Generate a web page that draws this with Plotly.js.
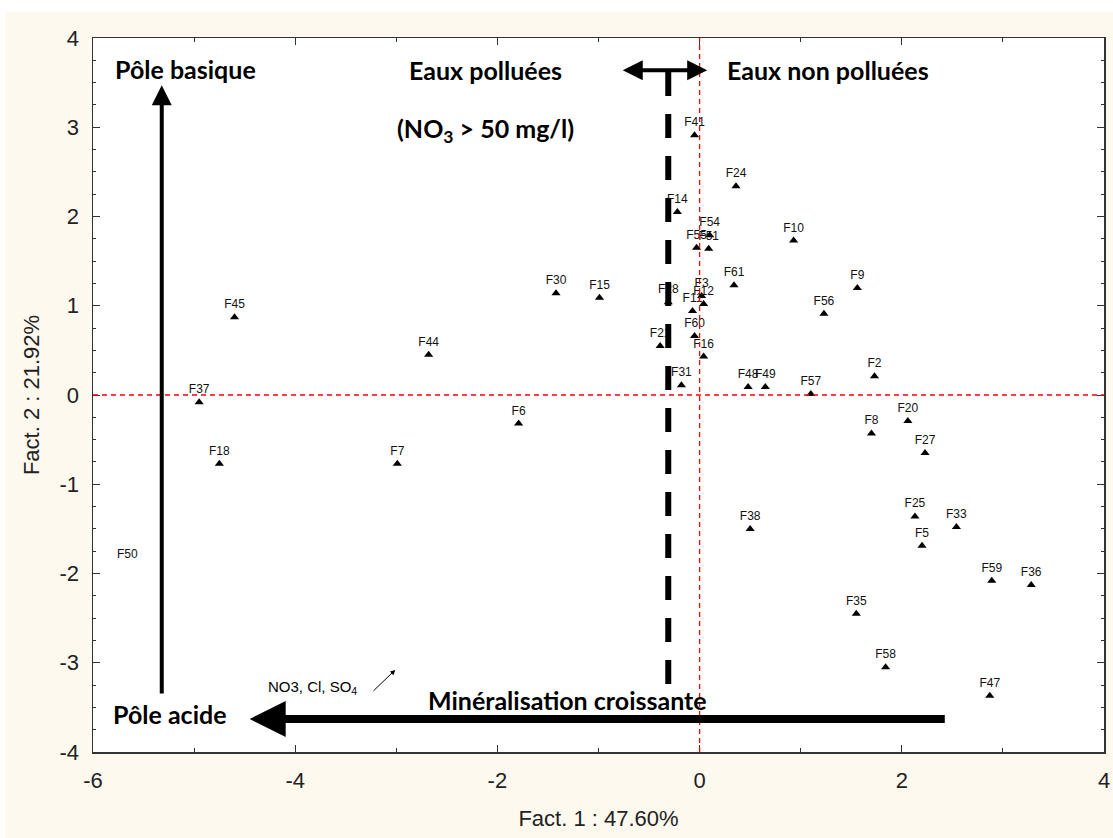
<!DOCTYPE html>
<html>
<head>
<meta charset="utf-8">
<script src="https://cdn.plot.ly/plotly-3.0.1.min.js"></script>
<style>
  html, body { margin: 0; padding: 0; background: #ffffff; }
  #chart { position: absolute; left: 5px; top: 12px; width: 1108px; height: 826px; }
</style>
</head>
<body>
<div id="chart"></div>
<script>
// Well labels and their factor scores (Fact. 1, Fact. 2)
const wells = ["F41","F24","F14","F54","F55","F51","F10","F61","F9","F56","F30","F15",
               "F45","F44","F37","F18","F7","F6","F3","F12","F11","F28","F60","F21",
               "F16","F31","F48","F49","F57","F2","F8","F20","F27","F38","F25","F33",
               "F5","F59","F36","F35","F58","F47"];
const fact1 = [-0.05, 0.36, -0.22, 0.10, -0.03, 0.09, 0.93, 0.34, 1.56, 1.23, -1.42, -0.99,
               -4.60, -2.68, -4.95, -4.75, -2.99, -1.79, 0.02, 0.04, -0.07, -0.31, -0.05, -0.39,
               0.04, -0.18, 0.48, 0.65, 1.10, 1.73, 1.70, 2.06, 2.23, 0.50, 2.13, 2.54,
               2.20, 2.89, 3.28, 1.55, 1.84, 2.87];
const fact2 = [2.91, 2.34, 2.05, 1.79, 1.65, 1.64, 1.73, 1.23, 1.20, 0.91, 1.14, 1.09,
               0.87, 0.45, -0.08, -0.77, -0.77, -0.32, 1.11, 1.02, 0.94, 1.04, 0.66, 0.55,
               0.43, 0.11, 0.09, 0.09, 0.01, 0.21, -0.43, -0.29, -0.65, -1.50, -1.36, -1.48,
               -1.69, -2.08, -2.13, -2.45, -3.05, -3.37];
// Label drawn without a visible marker
const labelOnly = ["F50"];
const labelOnlyF1 = [-5.66];
const labelOnlyF2 = [-1.86];

const xTicks = [-6, -4, -2, 0, 2, 4];
const yTicks = [-4, -3, -2, -1, 0, 1, 2, 3, 4];

const lblFont = { family: "Liberation Sans, Arial, sans-serif", size: 12, color: "#111" };

const traces = [
  {
    type: "scatter", mode: "markers+text",
    x: fact1, y: fact2, text: wells,
    textposition: "top center",
    textfont: lblFont,
    marker: { symbol: "triangle-up", size: 8, color: "#000" },
    hoverinfo: "text", showlegend: false, cliponaxis: false
  },
  {
    type: "scatter", mode: "text",
    x: labelOnlyF1, y: labelOnlyF2, text: labelOnly,
    textposition: "top center",
    textfont: lblFont,
    showlegend: false, cliponaxis: false
  }
];

const boldFont = { family: "Lato, 'Open Sans', sans-serif", size: 25, color: "#000", weight: 700 };

const layout = {
  width: 1108, height: 826,
  paper_bgcolor: "#fef9ef",
  plot_bgcolor: "#ffffff",
  margin: { l: 88, r: 9, t: 26, b: 86 },
  showlegend: false,
  xaxis: {
    range: [-6, 4], tickvals: xTicks, ticktext: xTicks.map(String),
    ticks: "inside", ticklen: 7, tickcolor: "#333", tickwidth: 1,
    minor: { dtick: 1, ticks: "inside", ticklen: 4, tickcolor: "#333" },
    showline: true, linecolor: "#333", linewidth: 1.5, mirror: "ticks",
    showgrid: false, zeroline: false,
    tickfont: { family: "Liberation Sans Narrow, Arial Narrow, sans-serif", size: 22, color: "#222" },
    ticklabelstandoff: 8,
    title: { text: "Fact. 1 : 47.60%", standoff: 18,
             font: { family: "Liberation Sans Narrow, Arial Narrow, sans-serif", size: 22, color: "#222" } }
  },
  yaxis: {
    range: [-4, 4], tickvals: yTicks, ticktext: yTicks.map(String),
    ticks: "inside", ticklen: 7, tickcolor: "#333", tickwidth: 1,
    minor: { dtick: 0.25, ticks: "inside", ticklen: 3, tickcolor: "#333" },
    showline: true, linecolor: "#333", linewidth: 1.5, mirror: "ticks",
    showgrid: false, zeroline: false,
    tickfont: { family: "Liberation Sans Narrow, Arial Narrow, sans-serif", size: 22, color: "#222" },
    ticklabelstandoff: 8,
    title: { text: "Fact. 2 : 21.92%", standoff: 14,
             font: { family: "Liberation Sans Narrow, Arial Narrow, sans-serif", size: 22, color: "#222" } }
  },
  shapes: [
    { type: "line", xref: "x", yref: "paper", x0: 0, x1: 0, y0: 0, y1: 1,
      line: { color: "#ff0000", width: 1.3, dash: "5px,4px" } },
    { type: "line", xref: "paper", yref: "y", x0: 0, x1: 1, y0: 0, y1: 0,
      line: { color: "#ff0000", width: 1.3, dash: "5px,4px" } },
    { type: "line", xref: "x", yref: "y", x0: -0.31, x1: -0.31, y0: 3.62, y1: -3.32,
      line: { color: "#000", width: 6, dash: "24px,18px" } }
  ],
  annotations: [
    // vertical arrow: Pôle basique
    { x: -5.32, y: 3.47, ax: -5.32, ay: -3.36, xref: "x", yref: "y", axref: "x", ayref: "y",
      text: "", showarrow: true, arrowhead: 2, arrowsize: 1, arrowwidth: 4, arrowcolor: "#000" },
    // horizontal arrow: minéralisation croissante
    { x: -4.45, y: -3.63, ax: 2.44, ay: -3.63, xref: "x", yref: "y", axref: "x", ayref: "y",
      text: "", showarrow: true, arrowhead: 2, arrowsize: 0.9, arrowwidth: 8, arrowcolor: "#000" },
    // double arrow
    { x: -0.76, y: 3.64, ax: 0.09, ay: 3.64, xref: "x", yref: "y", axref: "x", ayref: "y",
      text: "", showarrow: true, arrowhead: 2, arrowside: "end+start", arrowsize: 1, arrowwidth: 4, arrowcolor: "#000" },
    // small arrow
    { x: -3.01, y: -3.08, ax: -3.24, ay: -3.33, xref: "x", yref: "y", axref: "x", ayref: "y",
      text: "", showarrow: true, arrowhead: 2, arrowsize: 1, arrowwidth: 1, arrowcolor: "#000" },
    { x: -5.09, y: 3.65, xref: "x", yref: "y", text: "<b>Pôle basique</b>", showarrow: false, font: boldFont },
    { x: -2.12, y: 3.64, xref: "x", yref: "y", text: "<b>Eaux polluées</b>", showarrow: false, font: boldFont },
    { x: 1.27, y: 3.64, xref: "x", yref: "y", text: "<b>Eaux non polluées</b>", showarrow: false, font: boldFont },
    { x: -2.12, y: 2.97, xref: "x", yref: "y", text: "<b>(NO<sub>3</sub> &gt; 50 mg/l)</b>", showarrow: false, font: boldFont },
    { x: -5.24, y: -3.57, xref: "x", yref: "y", text: "<b>Pôle acide</b>", showarrow: false, font: boldFont },
    { x: -1.31, y: -3.42, xref: "x", yref: "y", text: "<b>Minéralisation croissante</b>", showarrow: false, font: boldFont },
    { x: -3.83, y: -3.28, xref: "x", yref: "y", text: "NO3, Cl, SO<sub>4</sub>", showarrow: false,
      font: { family: "Liberation Sans Narrow, Arial Narrow, sans-serif", size: 15, color: "#000" } }
  ]
};

Plotly.newPlot("chart", traces, layout, { displayModeBar: false, staticPlot: true });
</script>
</body>
</html>
